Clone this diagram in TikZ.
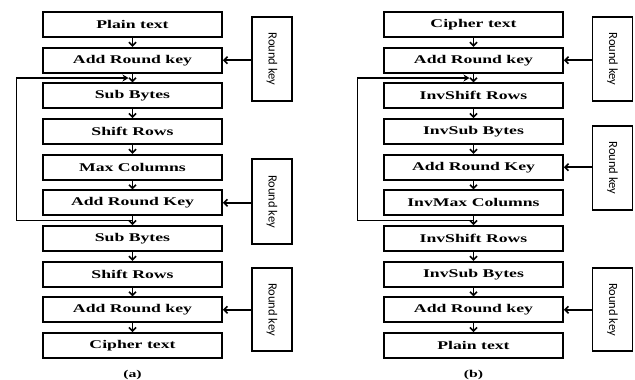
\documentclass[tikz,border=0pt]{standalone}
\usepackage{fontspec}
\setmainfont{Liberation Serif}[FakeStretch=1.5]
\newfontfamily\keyfont{Carlito}
\usetikzlibrary{arrows.meta,calc}

\begin{document}
\begin{tikzpicture}[x=1pt,y=-1pt,
  op/.style={draw,line width=1.8pt,minimum width=179pt,minimum height=25pt,inner sep=0pt,
    font=\fontsize{11.8}{12}\selectfont\bfseries},
  keybox/.style={draw,line width=1.8pt,minimum width=40pt,inner sep=0pt,
    font=\keyfont\fontsize{12.5}{13}\selectfont},
  flow/.style={line width=1.6pt,-{Straight Barb[length=3.5pt,width=7pt,line width=1.6pt]}},
  loopline/.style={line width=1.6pt,-{Stealth[length=6pt,width=7pt]}},
  caption/.style={font=\fontsize{10.5}{11}\selectfont\bfseries}]
\useasboundingbox (0,0) rectangle (635,380);

% encryption chain
\node[op] (a1)  at (132.5,24.5)  {Plain text};
\node[op] (a2)  at (132.5,60.2)  {Add Round key};
\node[op] (a3)  at (132.5,95.8)  {Sub Bytes};
\node[op] (a4)  at (132.5,131.5) {Shift Rows};
\node[op] (a5)  at (132.5,167.2) {Max Columns};
\node[op] (a6)  at (132.5,202.8) {Add Round Key};
\node[op] (a7)  at (132.5,238.5) {Sub Bytes};
\node[op] (a8)  at (132.5,274.2) {Shift Rows};
\node[op] (a9)  at (132.5,309.8) {Add Round key};
\node[op] (a10) at (132.5,345.5) {Cipher text};

\node[keybox,minimum height=84pt] (ka1) at (272,59)    {\rotatebox{-90}{Round key}};
\node[keybox,minimum height=85pt] (ka2) at (272,201.5) {\rotatebox{-90}{Round key}};
\node[keybox,minimum height=83pt] (ka3) at (272,309.5) {\rotatebox{-90}{Round key}};

\foreach \i/\j in {1/2,2/3,3/4,4/5,5/6,6/7,7/8,8/9,9/10}
  \draw[flow] (a\i.south) -- (a\j.north);
\draw[flow] (a2.east -| ka1.west) -- (a2.east);
\draw[flow] (a6.east -| ka2.west) -- (a6.east);
\draw[flow] (a9.east -| ka3.west) -- (a9.east);

\coordinate (la-top) at ($(a2.south)!0.5!(a3.north)$);
\coordinate (la-bot) at ($(a6.south)!0.5!(a7.north)$);
\draw[loopline] (la-bot) -| ([xshift=-116pt]la-top) -- ([xshift=-4pt]la-top);

\node[caption] (capa) at (132.5,375) {(a)};

% decryption chain
\node[op] (b1)  at (473.5,24.5)  {Cipher text};
\node[op] (b2)  at (473.5,60.2)  {Add Round key};
\node[op] (b3)  at (473.5,95.8)  {InvShift Rows};
\node[op] (b4)  at (473.5,131.5) {InvSub Bytes};
\node[op] (b5)  at (473.5,167.2) {Add Round Key};
\node[op] (b6)  at (473.5,202.8) {InvMax Columns};
\node[op] (b7)  at (473.5,238.5) {InvShift Rows};
\node[op] (b8)  at (473.5,274.2) {InvSub Bytes};
\node[op] (b9)  at (473.5,309.8) {Add Round key};
\node[op] (b10) at (473.5,345.5) {Plain text};

\node[keybox,minimum height=84pt] (kb1) at (612.5,59)    {\rotatebox{-90}{Round key}};
\node[keybox,minimum height=84pt] (kb2) at (612.5,168)   {\rotatebox{-90}{Round key}};
\node[keybox,minimum height=83pt] (kb3) at (612.5,309.5) {\rotatebox{-90}{Round key}};

\foreach \i/\j in {1/2,2/3,3/4,4/5,5/6,6/7,7/8,8/9,9/10}
  \draw[flow] (b\i.south) -- (b\j.north);
\draw[flow] (b2.east -| kb1.west) -- (b2.east);
\draw[flow] (b5.east -| kb2.west) -- (b5.east);
\draw[flow] (b9.east -| kb3.west) -- (b9.east);

\coordinate (lb-top) at ($(b2.south)!0.5!(b3.north)$);
\coordinate (lb-bot) at ($(b6.south)!0.5!(b7.north)$);
\draw[loopline] (lb-bot) -| ([xshift=-116pt]lb-top) -- ([xshift=-4pt]lb-top);

\node[caption] (capb) at (473.5,375) {(b)};
\end{tikzpicture}
\end{document}
